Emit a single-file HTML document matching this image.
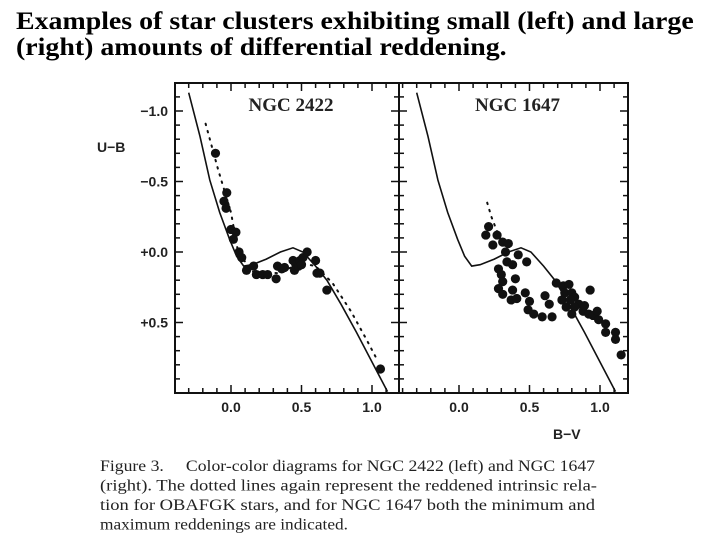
<!DOCTYPE html>
<html><head><meta charset="utf-8"><style>
html,body{margin:0;padding:0;background:#fff;width:720px;height:540px;overflow:hidden}
#title{position:absolute;left:16px;top:9px;width:710px;font:bold 25px/26px "Liberation Serif",serif;color:#000;margin:0;white-space:nowrap;transform:scaleX(1.115);transform-origin:0 0}
svg{position:absolute;left:0;top:0}
.cap{font-family:"Liberation Serif",serif;font-size:15.5px;fill:#222}
.tick{font-family:"Liberation Sans",sans-serif;font-size:14px;font-weight:bold;fill:#222}
</style></head><body>
<h1 id="title">Examples of star clusters exhibiting small (left) and large<br>(right) amounts of differential reddening.</h1>
<svg id="chart" width="720" height="540"></svg>
<script>
const xTicks=[0.0,0.5,1.0];
const xTickLabels=["0.0","0.5","1.0"];
const yTicks=[-1.0,-0.5,0.0,0.5];
const yTickLabels=["\u22121.0","\u22120.5","+0.0","+0.5"];
const intrinsicX=[-0.30,-0.22,-0.15,-0.08,-0.01,0.04,0.09,0.15,0.25,0.35,0.44,0.51,0.60,0.68,0.78,0.89,1.00,1.11];
const intrinsicY=[-1.13,-0.82,-0.51,-0.28,-0.09,0.03,0.10,0.09,0.05,0.00,-0.03,0.00,0.10,0.20,0.37,0.57,0.78,0.99];
const dottedX=[-0.18,-0.09,0.00,0.05,0.15,0.33,0.50,0.60,0.72,0.85,0.96,1.04];
const dottedY=[-0.91,-0.58,-0.28,0.00,0.14,0.15,0.08,0.10,0.22,0.42,0.62,0.77];
const leftBV=[-0.11,-0.03,-0.05,-0.035,0.0,0.035,0.017,0.057,0.076,0.11,0.16,0.18,0.225,0.26,0.32,0.33,0.36,0.38,0.44,0.46,0.45,0.48,0.49,0.51,0.54,0.50,0.60,0.61,0.63,0.68,1.06];
const leftUB=[-0.70,-0.42,-0.36,-0.31,-0.16,-0.14,-0.09,0.0,0.04,0.13,0.10,0.16,0.16,0.16,0.19,0.10,0.12,0.11,0.06,0.09,0.13,0.10,0.06,0.04,0.00,0.09,0.06,0.15,0.15,0.27,0.83];
const rightBV=[0.21,0.19,0.27,0.24,0.31,0.35,0.33,0.42,0.34,0.38,0.48,0.28,0.30,0.31,0.40,0.28,0.31,0.38,0.37,0.41,0.47,0.50,0.49,0.53,0.61,0.64,0.59,0.66,0.69,0.74,0.78,0.75,0.80,0.73,0.76,0.82,0.85,0.80,0.88,0.93,0.92,0.95,0.98,0.99,1.04,1.04,1.11,1.11,1.15,0.79,0.82,0.89];
const rightUB=[-0.18,-0.12,-0.12,-0.05,-0.07,-0.06,0.00,0.02,0.07,0.09,0.07,0.12,0.16,0.21,0.19,0.26,0.30,0.27,0.34,0.33,0.29,0.35,0.41,0.44,0.31,0.37,0.46,0.46,0.22,0.24,0.23,0.29,0.29,0.34,0.39,0.32,0.37,0.44,0.42,0.27,0.44,0.45,0.42,0.48,0.51,0.57,0.57,0.62,0.73,0.34,0.39,0.38];
const rightMinX=[0.20,0.23,0.28,0.35];
const rightMinY=[-0.35,-0.25,-0.12,0.00];
const NS="http://www.w3.org/2000/svg";
const svg=document.getElementById('chart');
function mk(tag,attrs,parent){const e=document.createElementNS(NS,tag);for(const k in attrs)e.setAttribute(k,attrs[k]);(parent||svg).appendChild(e);return e;}
const yTop=83,yBot=393;
function ys(v){return 252+v*141;}
const panels=[{x0:175,x1:399,zero:231,name:'ngc-2422',label:'NGC 2422',bv:leftBV,ub:leftUB,dot:true},
{x0:399,x1:628,zero:459,name:'ngc-1647',label:'NGC 1647',bv:rightBV,ub:rightUB,dot:false}];
panels.forEach(p=>{
  const xs=v=>p.zero+v*141;
  const g=mk('g',{});
  
  
  const fr=mk('rect',{x:p.x0,y:yTop,width:p.x1-p.x0,height:yBot-yTop,fill:'none',stroke:'#111','stroke-width':2},g);
  
  
  for(let i=-4;i<=13;i++){const v=i/10;const x=xs(v);if(x<=p.x0+1||x>=p.x1-1)continue;const L=(i%5===0)?8:5;
    mk('line',{x1:x,x2:x,y1:yBot,y2:yBot-L,stroke:'#111','stroke-width':1.5},g);
    mk('line',{x1:x,x2:x,y1:yTop,y2:yTop+L,stroke:'#111','stroke-width':1.5},g);}
  for(let i=-12;i<=10;i++){const v=i/10;const y=ys(v);if(y<=yTop+1||y>=yBot-1)continue;const L=(i%5===0)?8:5;
    mk('line',{x1:p.x0,x2:p.x0+L,y1:y,y2:y,stroke:'#111','stroke-width':1.5},g);
    mk('line',{x1:p.x1,x2:p.x1-L,y1:y,y2:y,stroke:'#111','stroke-width':1.5},g);}
  xTicks.forEach((v,i)=>{const t=mk('text',{x:xs(v),y:412,'text-anchor':'middle',class:'tick'},g);t.textContent=xTickLabels[i];
    
    });
  const tl=mk('text',{x:(p.x0+p.x1)/2+4,y:111,'text-anchor':'middle','font-family':'Liberation Serif, serif','font-size':'19','font-weight':'bold',fill:'#222'},g);
  tl.textContent=p.label;
  
  
  const line=mk('path',{d:intrinsicX.map((v,i)=>(i?'L':'M')+xs(v).toFixed(1)+','+ys(intrinsicY[i]).toFixed(1)).join(''),fill:'none',stroke:'#111','stroke-width':1.6},g);
  
  
  const dx=p.dot?dottedX:rightMinX, dy=p.dot?dottedY:rightMinY;
  const dl=mk('path',{d:dx.map((v,i)=>(i?'L':'M')+xs(v).toFixed(1)+','+ys(dy[i]).toFixed(1)).join(''),fill:'none',stroke:'#111','stroke-width':2,'stroke-dasharray':'1.5 6','stroke-linecap':'round'},g);
  
  
  p.bv.forEach((v,i)=>{const c=mk('circle',{cx:xs(v),cy:ys(p.ub[i]),r:4.6,fill:'#111'},g);
    
    });
});
yTicks.forEach((v,i)=>{const t=mk('text',{x:168,y:ys(v)+5,'text-anchor':'end',class:'tick'});t.textContent=yTickLabels[i];
  
  });
const yt=mk('text',{x:97,y:152,class:'tick','font-size':'16'});yt.textContent='U\u2212B';


const xt=mk('text',{x:553,y:439,class:'tick','font-size':'16'});xt.textContent='B\u2212V';


const capLines=["Figure 3.\u2003 Color-color diagrams for NGC 2422 (left) and NGC 1647","(right). The dotted lines again represent the reddened intrinsic rela-","tion for OBAFGK stars, and for NGC 1647 both the minimum and","maximum reddenings are indicated."];
const capLens=[495,497,495,248];
capLines.forEach((s,i)=>{const t=mk('text',{x:100,y:471+i*19.5,class:'cap',textLength:capLens[i],lengthAdjust:'spacingAndGlyphs'});
  t.textContent=s;
  
  });
</script>
</body></html>
